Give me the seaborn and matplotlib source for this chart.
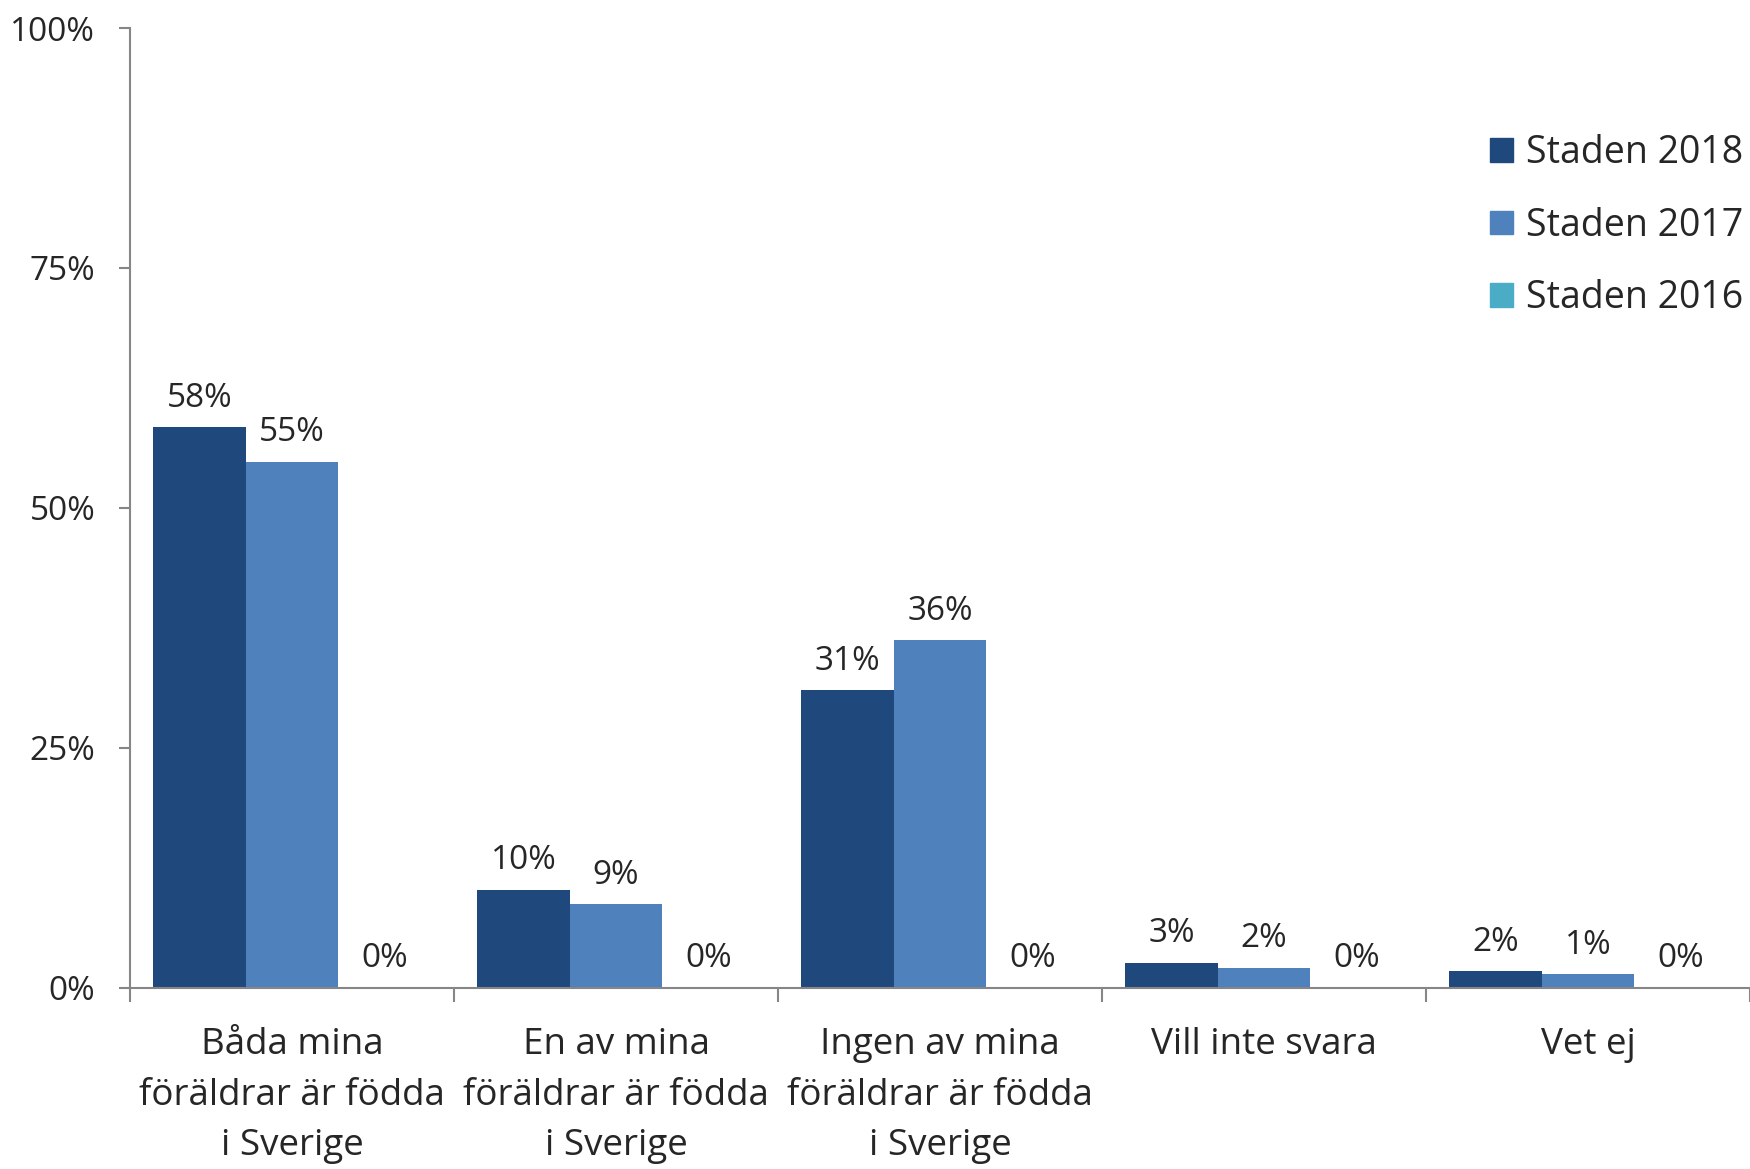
import pandas as pd
import numpy as np
import matplotlib.pyplot as plt
import seaborn as sns

categories = ["Båda mina\nföräldrar är födda\ni Sverige",
              "En av mina\nföräldrar är födda\ni Sverige",
              "Ingen av mina\nföräldrar är födda\ni Sverige",
              "Vill inte svara",
              "Vet ej"]
series = ["Staden 2018", "Staden 2017", "Staden 2016"]
staden_2018 = [0.584, 0.102, 0.310, 0.026, 0.017]
staden_2017 = [0.548, 0.087, 0.362, 0.021, 0.014]
staden_2016 = [0.0, 0.0, 0.0, 0.0, 0.0]
colors = ["#1F497D", "#4F81BD", "#4BACC6"]

df = pd.DataFrame({
    "kategori": categories * 3,
    "serie": [s for s in series for _ in categories],
    "andel": staden_2018 + staden_2017 + staden_2016,
})

sns.set_style("white")
plt.rcParams['font.family'] = ['Open Sans', 'DejaVu Sans']
axis_gray = "#868686"

fig = plt.figure(figsize=(17.5, 11.69), dpi=100)
ax = fig.add_axes([0.0743, 0.155, 0.9257, 0.821])

sns.barplot(data=df, x="kategori", y="andel", hue="serie", palette=colors,
            width=0.857, gap=0, saturation=1, errorbar=None, ax=ax,
            edgecolor="none", legend=False)

# datalabels
for cont, vals in zip(ax.containers, [staden_2018, staden_2017, staden_2016]):
    ax.bar_label(cont, labels=[f"{round(v * 100)}%" for v in vals],
                 padding=9, fontsize=24)

ax.set_ylim(0, 1)
ax.set_xlim(-0.5, 4.5)
ax.set_yticks([0, 0.25, 0.5, 0.75, 1.0])
ax.set_yticklabels(["0%", "25%", "50%", "75%", "100%"])
ax.set_xticks(np.arange(-0.5, 5, 1), minor=True)
ax.tick_params(axis="y", direction="out", length=8, width=1.5, color=axis_gray,
               pad=17, labelsize=24, left=True)
ax.tick_params(axis="x", which="major", length=0, pad=28, labelsize=26.5)
ax.tick_params(axis="x", which="minor", direction="out", length=10, width=1.5,
               color=axis_gray, bottom=True)
for lab in ax.get_xticklabels():
    lab.set_linespacing(1.55)
ax.set_xlabel("")
ax.set_ylabel("")

for side in ["top", "right"]:
    ax.spines[side].set_visible(False)
for side in ["left", "bottom"]:
    ax.spines[side].set_color(axis_gray)
    ax.spines[side].set_linewidth(1.5)

handles = [plt.Rectangle((0, 0), 1, 1, color=c) for c in colors]
ax.legend(handles, series, loc="upper right", bbox_to_anchor=(1.005, 0.905),
          frameon=False, fontsize=27, handlelength=0.6, handleheight=0.6,
          handletextpad=0.35, labelspacing=0.92, borderaxespad=0)

fig.savefig("out.png", dpi=100)
